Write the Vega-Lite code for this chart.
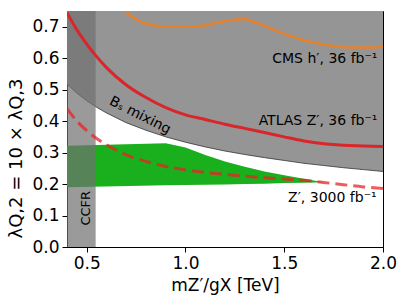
{
  "$schema": "https://vega.github.io/schema/vega-lite/v6.json",
  "width": 316,
  "height": 236,
  "autosize": {"type": "none"},
  "padding": {"left": 67, "top": 11, "right": 24, "bottom": 58},
  "background": "white",
  "config": {
    "view": {"stroke": "black", "strokeWidth": 1},
    "font": "DejaVu Sans",
    "axis": {
      "grid": false,
      "labelFont": "DejaVu Sans",
      "labelFontSize": 17,
      "labelColor": "black",
      "labelFlush": false,
      "titleFont": "DejaVu Sans",
      "titleFontSize": 17,
      "titleFontWeight": "normal",
      "titleColor": "black",
      "tickColor": "black",
      "domainColor": "black",
      "tickSize": 5,
      "labelPadding": 3
    }
  },
  "encoding": {
    "x": {
      "type": "quantitative",
      "scale": {"domain": [0.4, 2.0], "nice": false, "zero": false},
      "axis": {"values": [0.5, 1.0, 1.5, 2.0], "format": ".1f", "title": "mZ′/gX  [TeV]", "titlePadding": 6, "labelOverlap": false, "labelFlush": false}
    },
    "y": {
      "type": "quantitative",
      "scale": {"domain": [0, 0.75], "nice": false, "zero": false},
      "axis": {"values": [0, 0.1, 0.2, 0.3, 0.4, 0.5, 0.6, 0.7], "tickCount": 8, "format": ".1f", "title": "λQ,2 = 10 × λQ,3", "titlePadding": 6, "titleY": 147, "titleFontSize": 18, "labelOverlap": false, "labelSeparation": 0, "labelBound": false, "labelFlush": false}
    }
  },
  "datasets": {
    "bs": [
      {"x": 0.4, "y": 0.518}, {"x": 0.45, "y": 0.489}, {"x": 0.5, "y": 0.465}, {"x": 0.55, "y": 0.444},
      {"x": 0.6, "y": 0.426}, {"x": 0.7, "y": 0.395}, {"x": 0.8, "y": 0.371}, {"x": 0.9, "y": 0.350},
      {"x": 1.0, "y": 0.333}, {"x": 1.1, "y": 0.318}, {"x": 1.2, "y": 0.305}, {"x": 1.3, "y": 0.294},
      {"x": 1.4, "y": 0.284}, {"x": 1.5, "y": 0.275}, {"x": 1.6, "y": 0.266}, {"x": 1.7, "y": 0.259},
      {"x": 1.8, "y": 0.252}, {"x": 1.9, "y": 0.246}, {"x": 2.0, "y": 0.240}
    ],
    "green": [
      {"x": 0.4, "y": 0.322, "bottom": 0.190}, {"x": 0.9, "y": 0.330, "bottom": 0.196},
      {"x": 1.0, "y": 0.316, "bottom": 0.197}, {"x": 1.1, "y": 0.292, "bottom": 0.198},
      {"x": 1.2, "y": 0.272, "bottom": 0.199}, {"x": 1.3, "y": 0.255, "bottom": 0.200},
      {"x": 1.4, "y": 0.240, "bottom": 0.201}, {"x": 1.5, "y": 0.228, "bottom": 0.203},
      {"x": 1.6, "y": 0.217, "bottom": 0.204}, {"x": 1.7, "y": 0.206, "bottom": 0.206}
    ],
    "ccfr": [{"x": 0.4, "x1": 0.545, "y": 0, "y1": 0.75}],
    "atlas": [
      {"x": 0.4, "y": 0.745}, {"x": 0.45, "y": 0.69}, {"x": 0.5, "y": 0.645}, {"x": 0.55, "y": 0.605},
      {"x": 0.6, "y": 0.57}, {"x": 0.7, "y": 0.515}, {"x": 0.8, "y": 0.475}, {"x": 0.9, "y": 0.443},
      {"x": 1.0, "y": 0.42}, {"x": 1.1, "y": 0.405}, {"x": 1.2, "y": 0.39}, {"x": 1.3, "y": 0.377},
      {"x": 1.4, "y": 0.364}, {"x": 1.5, "y": 0.35}, {"x": 1.6, "y": 0.337}, {"x": 1.7, "y": 0.328},
      {"x": 1.8, "y": 0.323}, {"x": 1.9, "y": 0.321}, {"x": 2.0, "y": 0.319}
    ],
    "hl": [
      {"x": 0.4, "y": 0.44}, {"x": 0.45, "y": 0.40}, {"x": 0.5, "y": 0.37}, {"x": 0.55, "y": 0.345},
      {"x": 0.6, "y": 0.325}, {"x": 0.7, "y": 0.293}, {"x": 0.8, "y": 0.272}, {"x": 0.9, "y": 0.256},
      {"x": 1.0, "y": 0.245}, {"x": 1.1, "y": 0.237}, {"x": 1.2, "y": 0.231}, {"x": 1.3, "y": 0.225},
      {"x": 1.4, "y": 0.22}, {"x": 1.5, "y": 0.216}, {"x": 1.6, "y": 0.212}, {"x": 1.7, "y": 0.205},
      {"x": 1.8, "y": 0.198}, {"x": 1.9, "y": 0.191}, {"x": 2.0, "y": 0.186}
    ],
    "cms": [
      {"x": 0.695, "y": 0.75}, {"x": 0.72, "y": 0.735}, {"x": 0.76, "y": 0.72}, {"x": 0.8, "y": 0.71},
      {"x": 0.85, "y": 0.703}, {"x": 0.9, "y": 0.7}, {"x": 1.0, "y": 0.7}, {"x": 1.09, "y": 0.703},
      {"x": 1.15, "y": 0.712}, {"x": 1.2, "y": 0.718}, {"x": 1.25, "y": 0.722}, {"x": 1.3, "y": 0.725},
      {"x": 1.35, "y": 0.715}, {"x": 1.4, "y": 0.703}, {"x": 1.45, "y": 0.69}, {"x": 1.5, "y": 0.678},
      {"x": 1.55, "y": 0.666}, {"x": 1.6, "y": 0.657}, {"x": 1.65, "y": 0.65}, {"x": 1.7, "y": 0.644},
      {"x": 1.75, "y": 0.638}, {"x": 1.8, "y": 0.635}, {"x": 1.9, "y": 0.634}, {"x": 1.98, "y": 0.635},
      {"x": 2.0, "y": 0.641}
    ],
    "labels_right": [
      {"x": 1.972, "y": 0.598, "text": "CMS h′, 36 fb⁻¹"},
      {"x": 1.972, "y": 0.40, "text": "ATLAS Z′, 36 fb⁻¹"},
      {"x": 1.968, "y": 0.156, "text": "Z′, 3000 fb⁻¹"}
    ],
    "label_bs": [{"x": 0.77, "y": 0.418, "text": "Bₛ mixing"}],
    "label_ccfr": [{"x": 0.497, "y": 0.123, "text": "CCFR"}]
  },
  "layer": [
    {
      "data": {"name": "bs"},
      "mark": {"type": "area", "color": "#959595", "clip": true},
      "encoding": {
        "x": {"field": "x"},
        "y": {"field": "y"},
        "y2": {"datum": 0.75}
      }
    },
    {
      "data": {"name": "bs"},
      "mark": {"type": "line", "color": "#333333", "strokeWidth": 1, "opacity": 0.8, "clip": true},
      "encoding": {
        "x": {"field": "x"},
        "y": {"field": "y"}
      }
    },
    {
      "data": {"name": "green"},
      "mark": {"type": "area", "color": "#1aaf1c", "clip": true},
      "encoding": {
        "x": {"field": "x"},
        "y": {"field": "y"},
        "y2": {"field": "bottom"}
      }
    },
    {
      "data": {"name": "ccfr"},
      "mark": {"type": "rect", "color": "#717171", "opacity": 0.71, "clip": true},
      "encoding": {
        "x": {"field": "x"},
        "x2": {"field": "x1"},
        "y": {"field": "y"},
        "y2": {"field": "y1"}
      }
    },
    {
      "data": {"name": "cms"},
      "mark": {"type": "line", "color": "#e8822a", "strokeWidth": 2.5, "clip": true},
      "encoding": {
        "x": {"field": "x"},
        "y": {"field": "y"}
      }
    },
    {
      "data": {"name": "atlas"},
      "mark": {"type": "line", "color": "#d9262b", "strokeWidth": 3, "interpolate": "monotone", "clip": true},
      "encoding": {
        "x": {"field": "x"},
        "y": {"field": "y"}
      }
    },
    {
      "data": {"name": "hl"},
      "mark": {"type": "line", "color": "#eb2023", "opacity": 0.74, "strokeWidth": 3, "strokeDash": [12, 6], "interpolate": "monotone", "clip": true},
      "encoding": {
        "x": {"field": "x"},
        "y": {"field": "y"}
      }
    },
    {
      "data": {"name": "labels_right"},
      "mark": {"type": "text", "align": "right", "baseline": "middle", "fontSize": 14, "font": "DejaVu Sans", "color": "black"},
      "encoding": {
        "x": {"field": "x"},
        "y": {"field": "y"},
        "text": {"field": "text"}
      }
    },
    {
      "data": {"name": "label_bs"},
      "mark": {"type": "text", "align": "center", "baseline": "middle", "angle": 27, "fontSize": 14, "font": "DejaVu Sans", "color": "black"},
      "encoding": {
        "x": {"field": "x"},
        "y": {"field": "y"},
        "text": {"field": "text"}
      }
    },
    {
      "data": {"name": "label_ccfr"},
      "mark": {"type": "text", "align": "center", "baseline": "middle", "angle": 270, "fontSize": 13, "font": "DejaVu Sans", "color": "black"},
      "encoding": {
        "x": {"field": "x"},
        "y": {"field": "y"},
        "text": {"field": "text"}
      }
    }
  ]
}
